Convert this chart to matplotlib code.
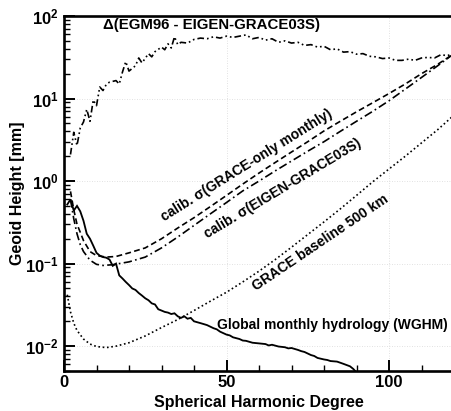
import math
import matplotlib
matplotlib.use("Agg")
import matplotlib.pyplot as plt
from matplotlib.ticker import LogLocator, FixedLocator, MultipleLocator, NullFormatter, FuncFormatter

plt.rcParams['font.family'] = ['Liberation Sans', 'DejaVu Sans']
plt.rcParams['font.weight'] = 'bold'
plt.rcParams['mathtext.fontset'] = 'custom'
plt.rcParams['mathtext.rm'] = 'Liberation Sans:bold'
plt.rcParams['mathtext.bf'] = 'Liberation Sans:bold'
plt.rcParams['mathtext.it'] = 'Liberation Sans:bold'

# --- Data -------------------------------------------------------------
# Delta(EGM96 - EIGEN-GRACE03S)
egm_deg = [2, 3, 4, 5, 6, 7, 8, 9, 10, 11, 12, 13, 14, 16, 17, 18, 19, 20, 22, 23, 24,
           26, 27, 28, 30, 31, 32, 33, 34, 35, 36, 38, 40, 42, 44, 46, 48, 50, 52, 54,
           56, 58, 60, 62, 64, 66, 68, 70, 72, 74, 76, 78, 80, 82, 84, 86, 88, 90, 92,
           94, 96, 98, 100, 102, 104, 106, 108, 110, 112, 114, 116, 118, 120]
egm_val = [2.1, 3.9, 2.7, 4.4, 5.2, 7.4, 5.3, 9.6, 8.2, 13.8, 12.5, 14.8, 15.8, 16.5, 15.0,
           21, 28, 21.5, 25, 31, 27, 35, 32, 37, 42, 39, 46, 41, 56, 45, 48, 47, 52, 54,
           53, 56, 54, 57, 55, 57, 59, 53, 55, 51, 53, 48, 50, 47, 48, 44, 45, 42, 43,
           39, 40, 36.5, 37, 34.5, 35, 32.5, 32, 30.5, 31, 29, 29, 30, 29, 31, 31.5, 31,
           34, 33, 36]

# calib. sigma(GRACE-only monthly)
go_deg = [2, 3, 4, 5, 6, 8, 10, 13, 16, 20, 25, 30, 35, 40, 45, 50, 55, 60, 65, 70,
          75, 80, 85, 90, 95, 100, 105, 110, 115, 120]
go_val = [0.75, 0.45, 0.30, 0.24, 0.19, 0.14, 0.125, 0.12, 0.122, 0.135, 0.155, 0.2,
          0.27, 0.36, 0.49, 0.67, 0.92, 1.25, 1.68, 2.25, 3.0, 4.05, 5.3, 6.9, 8.9, 11.5,
          15, 20, 26, 35]

# calib. sigma(EIGEN-GRACE03S)
eg_deg = [2, 3, 4, 5, 6, 8, 10, 12, 15, 20, 25, 30, 35, 40, 45, 50, 55, 60, 65, 70,
          75, 80, 85, 90, 95, 100, 105, 110, 115, 120]
eg_val = [0.6, 0.35, 0.23, 0.17, 0.14, 0.11, 0.098, 0.095, 0.097, 0.105, 0.12, 0.155,
          0.21, 0.29, 0.4, 0.55, 0.76, 1.0, 1.33, 1.75, 2.3, 3.0, 4.0, 5.3, 7.0, 9.4,
          13, 18, 25, 35]

# GRACE baseline 500 km
gb_deg = [1, 2, 3, 4, 6, 8, 10, 13, 16, 20, 25, 30, 35, 40, 45, 50, 55, 60, 65, 70,
          75, 80, 85, 90, 95, 100, 105, 110, 115, 120]
gb_val = [0.042, 0.026, 0.019, 0.0155, 0.0122, 0.0106, 0.0099, 0.0096, 0.01, 0.011,
          0.0133, 0.0168, 0.021, 0.027, 0.035, 0.045, 0.06, 0.081, 0.112, 0.158, 0.225,
          0.32, 0.46, 0.67, 0.98, 1.4, 2.0, 2.9, 4.2, 6.3]

# Global monthly hydrology (WGHM)
wg_deg = [1, 2, 3, 4, 5, 6, 7, 8, 9, 10, 11, 12, 13, 14, 15, 16, 17, 18, 19, 20, 21, 22,
          23, 24, 25, 26, 27, 28, 29, 30, 31, 32, 33, 34, 35, 36, 37, 38, 39, 40, 42, 43,
          44, 46, 47, 48, 50, 51, 52, 54, 55, 56, 58, 60, 62, 63, 64, 66, 68, 69, 70, 72,
          73, 74, 76, 77, 78, 80, 81, 82, 84, 85, 86, 88, 89, 90]
wg_val = [0.52, 0.6, 0.44, 0.5, 0.43, 0.33, 0.23, 0.2, 0.165, 0.135, 0.125, 0.12, 0.118,
          0.112, 0.094, 0.1, 0.072, 0.066, 0.06, 0.055, 0.05, 0.048, 0.044, 0.041, 0.038,
          0.036, 0.033, 0.032, 0.028, 0.027, 0.026, 0.0255, 0.0245, 0.025, 0.023, 0.022,
          0.023, 0.0215, 0.022, 0.02, 0.019, 0.0185, 0.018, 0.0165, 0.016, 0.015, 0.0138,
          0.0135, 0.0128, 0.0122, 0.0117, 0.0116, 0.011, 0.0108, 0.0106, 0.0102, 0.0104,
          0.0099, 0.0097, 0.0094, 0.0095, 0.009, 0.0087, 0.0085, 0.0078, 0.0076, 0.0072,
          0.0069, 0.0068, 0.0066, 0.0065, 0.0063, 0.0061, 0.0057, 0.0053, 0.0048]

x_ticks = [0, 50, 100]
y_ticks = [1e-2, 1e-1, 1e0, 1e1, 1e2]

# --- Figure -----------------------------------------------------------
W, H = 452, 411
fig = plt.figure(figsize=(W / 100, H / 100), dpi=100)
ax = fig.add_axes([64 / W, 1 - 371 / H, 390 / W, 355 / H])
ax.set_yscale('log')
ax.set_xlim(0, 120)
ax.set_ylim(0.005, 100)

lw = 1.2
ax.plot(egm_deg, egm_val, color='black', lw=lw, dashes=(4, 1.8, 1, 1.8, 1, 1.8))
ax.plot(go_deg, go_val, color='black', lw=lw, dashes=(3.5, 2))
ax.plot(eg_deg, eg_val, color='black', lw=lw, dashes=(5, 2, 1, 2))
ax.plot(gb_deg, gb_val, color='black', lw=lw, dashes=(1, 1.6))
ax.plot(wg_deg, wg_val, color='black', lw=lw * 1.1, solid_joinstyle='miter')

# grid
ax.grid(True, which='major', color='#d8d8d8', lw=0.6, ls=(0, (1, 2)))

# ticks
ax.xaxis.set_major_locator(FixedLocator(x_ticks))
ax.xaxis.set_minor_locator(MultipleLocator(10))
ax.yaxis.set_major_locator(FixedLocator(y_ticks))
ax.yaxis.set_minor_locator(LogLocator(base=10, subs=range(2, 10), numticks=20))
ax.yaxis.set_minor_formatter(NullFormatter())

def yfmt(v, pos):
    e = int(round(math.log10(v)))
    return r'$\mathbf{10^{%d}}$' % e

ax.yaxis.set_major_formatter(FuncFormatter(yfmt))
ax.tick_params(axis='both', which='major', direction='in', length=8, width=1.4,
               labelsize=12, top=False, right=False)
ax.tick_params(axis='x', which='major', pad=3)
ax.tick_params(axis='y', which='major', pad=4)
ax.tick_params(axis='both', which='minor', direction='in', length=4.5, width=1.0,
               top=False, right=False)
for lab in ax.get_xticklabels():
    lab.set_fontweight('bold')

for s in ax.spines.values():
    s.set_linewidth(1.9)

ax.set_xlabel('Spherical Harmonic Degree', fontsize=11.5, fontweight='bold')
ax.set_ylabel('Geoid Height [mm]', fontsize=11.5, fontweight='bold')
ax.xaxis.set_label_coords(0.5, -(402 - 371) / 355, transform=ax.transAxes)
ax.xaxis.label.set_va('center')
ax.yaxis.set_label_coords((18 - 64) / 390, 0.5, transform=ax.transAxes)
ax.yaxis.label.set_va('center')

def ftext(px, py, s, rot=0, size=10):
    fig.text(px / W, 1 - py / H, s, ha='center', va='center', rotation=rot,
             rotation_mode='anchor', fontsize=size, fontweight='bold')

ftext(212, 25, 'Δ(EGM96 - EIGEN-GRACE03S)', size=10.8)
ftext(247, 165, 'calib. σ(GRACE-only monthly)', rot=32)
ftext(283, 189, 'calib. σ(EIGEN-GRACE03S)', rot=31)
ftext(320, 243, 'GRACE baseline 500 km', rot=34)
ftext(332, 325, 'Global monthly hydrology (WGHM)')

fig.savefig('out.png', dpi=100)
